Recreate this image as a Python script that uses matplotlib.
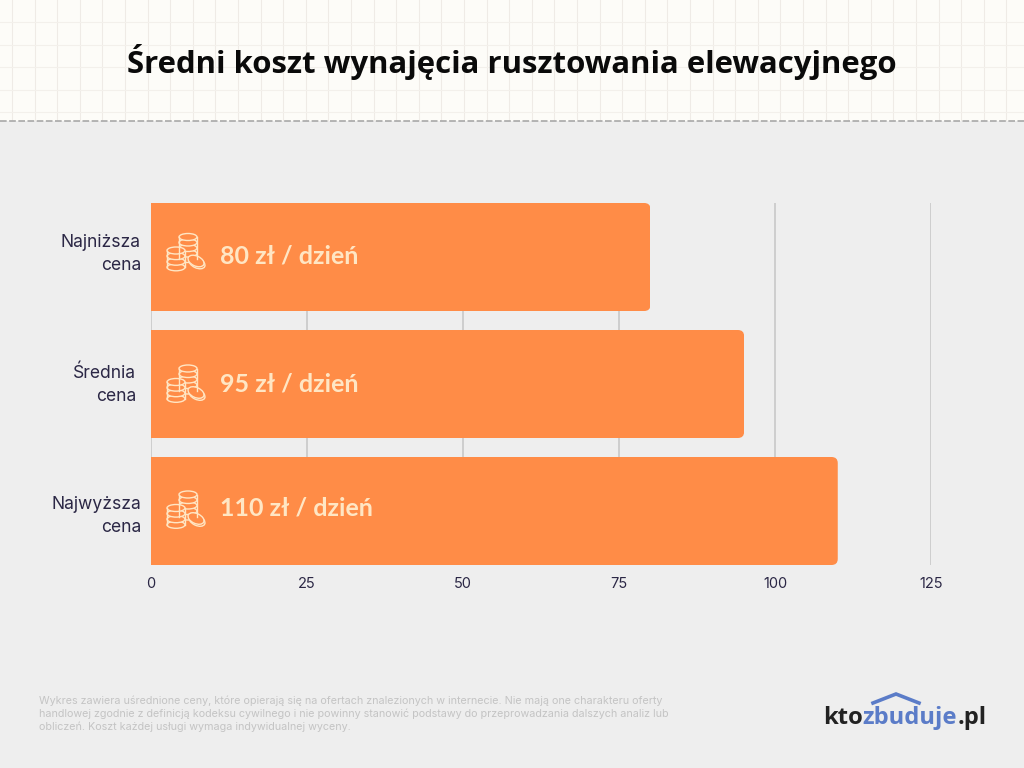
import matplotlib
matplotlib.use("Agg")
import matplotlib.pyplot as plt
from matplotlib.patches import Ellipse, FancyBboxPatch, Rectangle

# Dane
categories = ["Najniższa\ncena", "Średnia\ncena", "Najwyższa\ncena"]
values = [80, 95, 110]
value_labels = ["80 zł / dzień", "95 zł / dzień", "110 zł / dzień"]
x_ticks = [0, 25, 50, 75, 100, 125]

title = "Średni koszt wynajęcia rusztowania elewacyjnego"
footnote = ("Wykres zawiera uśrednione ceny, które opierają się na ofertach znalezionych w internecie. "
            "Nie mają one charakteru oferty\n"
            "handlowej zgodnie z definicją kodeksu cywilnego i nie powinny stanowić podstawy do "
            "przeprowadzania dalszych analiz lub\n"
            "obliczeń. Koszt każdej usługi wymaga indywidualnej wyceny.")

ORANGE = "#FF8C47"
CREAM = "#FFE6C4"
BLUE = "#5B7CC8"
INK = "#2B2745"
W, H = 1024, 768

fig = plt.figure(figsize=(W / 100, H / 100), dpi=100, facecolor="#EEEEEE")

# Tlo w pikselach
bg = fig.add_axes([0, 0, 1, 1], zorder=0)
bg.set_xlim(0, W)
bg.set_ylim(H, 0)
bg.axis("off")
bg.add_patch(Rectangle((0, 0), W, 121, facecolor="#FDFCF8", edgecolor="none"))
for i in range(46):
    bg.plot([12 + i * 22.6] * 2, [0, 120], color="#EFEBE6", lw=0.8)
for j in range(5):
    bg.plot([0, W], [22 + j * 22.5] * 2, color="#F3F0EB", lw=0.8)
bg.plot([0, W], [121, 121], color="#A8A8A8", lw=1.2, dashes=(4, 1.5))

# Wykres
ax = fig.add_axes([151 / W, 1 - 565 / H, 780.4 / W, (565 - 203) / H], zorder=1)
ax.patch.set_alpha(0)
y_pos = [0, 1, 2]
ax.set_ylim(2 + 54 / 127, -54 / 127)
ax.set_xlim(0, 125)
ax.set_xticks(x_ticks)
ax.set_yticks(y_pos)
ax.set_yticklabels([])
ax.set_xticklabels([str(t) for t in x_ticks], fontfamily="Inter", fontsize=10.5, color=INK)
ax.tick_params(axis="both", length=0)
ax.tick_params(axis="x", pad=9)
for s in ax.spines.values():
    s.set_visible(False)
ax.xaxis.grid(True, color="#C8C8C8", lw=1.2)
ax.set_axisbelow(True)

# Etykiety kategorii
cat_off = [(-10, 3), (-15, -1), (-10, -5)]
for y, txt, off in zip(y_pos, categories, cat_off):
    ax.annotate(txt, (0, y), xytext=off, textcoords="offset pixels", ha="right", va="center",
                multialignment="right", fontfamily="Inter", fontsize=12.6, color=INK,
                linespacing=1.45, annotation_clip=False)

bars = ax.barh(y_pos, values, height=108 / 127, color=ORANGE, zorder=2)

# Zaokraglone prawe rogi
for b in bars:
    clip = FancyBboxPatch((-10, b.get_y()), b.get_width() + 10, b.get_height(),
                          boxstyle="round,pad=0,rounding_size=1.0",
                          mutation_aspect=0.048, transform=ax.transData,
                          facecolor="none", edgecolor="none")
    ax.add_patch(clip)
    b.set_clip_path(clip)

# Etykiety wartosci
label_dy = [1, 0, 3]
for y, txt, dy in zip(y_pos, value_labels, label_dy):
    ax.annotate(txt, (0, y), xytext=(69, dy), textcoords="offset pixels",
                ha="left", va="center", fontfamily="Lato", fontweight="bold",
                fontsize=18, color=CREAM, zorder=4)

# Ikona monet (nakladka w pikselach)
ov = fig.add_axes([0, 0, 1, 1], zorder=2)
ov.set_xlim(0, W)
ov.set_ylim(H, 0)
ov.axis("off")


def draw_stack(cx, top, width, n, gap):
    for k in range(n, -1, -1):
        ov.add_patch(Ellipse((cx, top + k * gap), width, 7, facecolor=ORANGE, edgecolor=CREAM, lw=1.0))
    ov.plot([cx - width / 2] * 2, [top, top + n * gap], color=CREAM, lw=1.0)
    ov.plot([cx + width / 2] * 2, [top, top + n * gap], color=CREAM, lw=1.0)


for cy in (252, 383.5, 509.5):
    draw_stack(188, cy - 15, 18, 4, 5.5)
    draw_stack(176, cy - 1.5, 18, 3, 5.6)
    ov.add_patch(Ellipse((197, cy + 11), 17, 10, angle=25, facecolor=ORANGE, edgecolor=CREAM, lw=1.0))
    ov.add_patch(Ellipse((196, cy + 9), 17, 10, angle=25, facecolor=ORANGE, edgecolor=CREAM, lw=1.0))

# Tytul
ov.text(512, 62, title, ha="center", va="center", fontfamily="Open Sans",
        fontweight="bold", fontsize=22.45, color="#0A0A0A")

# Przypis
ov.text(39, 714, footnote, ha="left", va="center", fontfamily="Inter", fontsize=7.75,
        color="#C4C4C4", linespacing=1.3)

# Logo
t1 = ov.text(823, 718, "kto", ha="left", va="center", fontfamily="Open Sans",
             fontweight="bold", fontsize=17.1, color="#222222")
t2 = ov.annotate("zbuduje", xy=(1, 0.5), xycoords=t1, ha="left", va="center",
                 fontfamily="Open Sans", fontweight="bold", fontsize=17.1, color=BLUE)
ov.annotate(".pl", xy=(1, 0.5), xycoords=t2, ha="left", va="center",
            fontfamily="Open Sans", fontweight="bold", fontsize=17.1, color="#222222")
ov.plot([873, 896, 919], [703, 694, 703], color=BLUE, lw=2.6, solid_joinstyle="miter")

fig.savefig("out.png", dpi=100, facecolor=fig.get_facecolor())
